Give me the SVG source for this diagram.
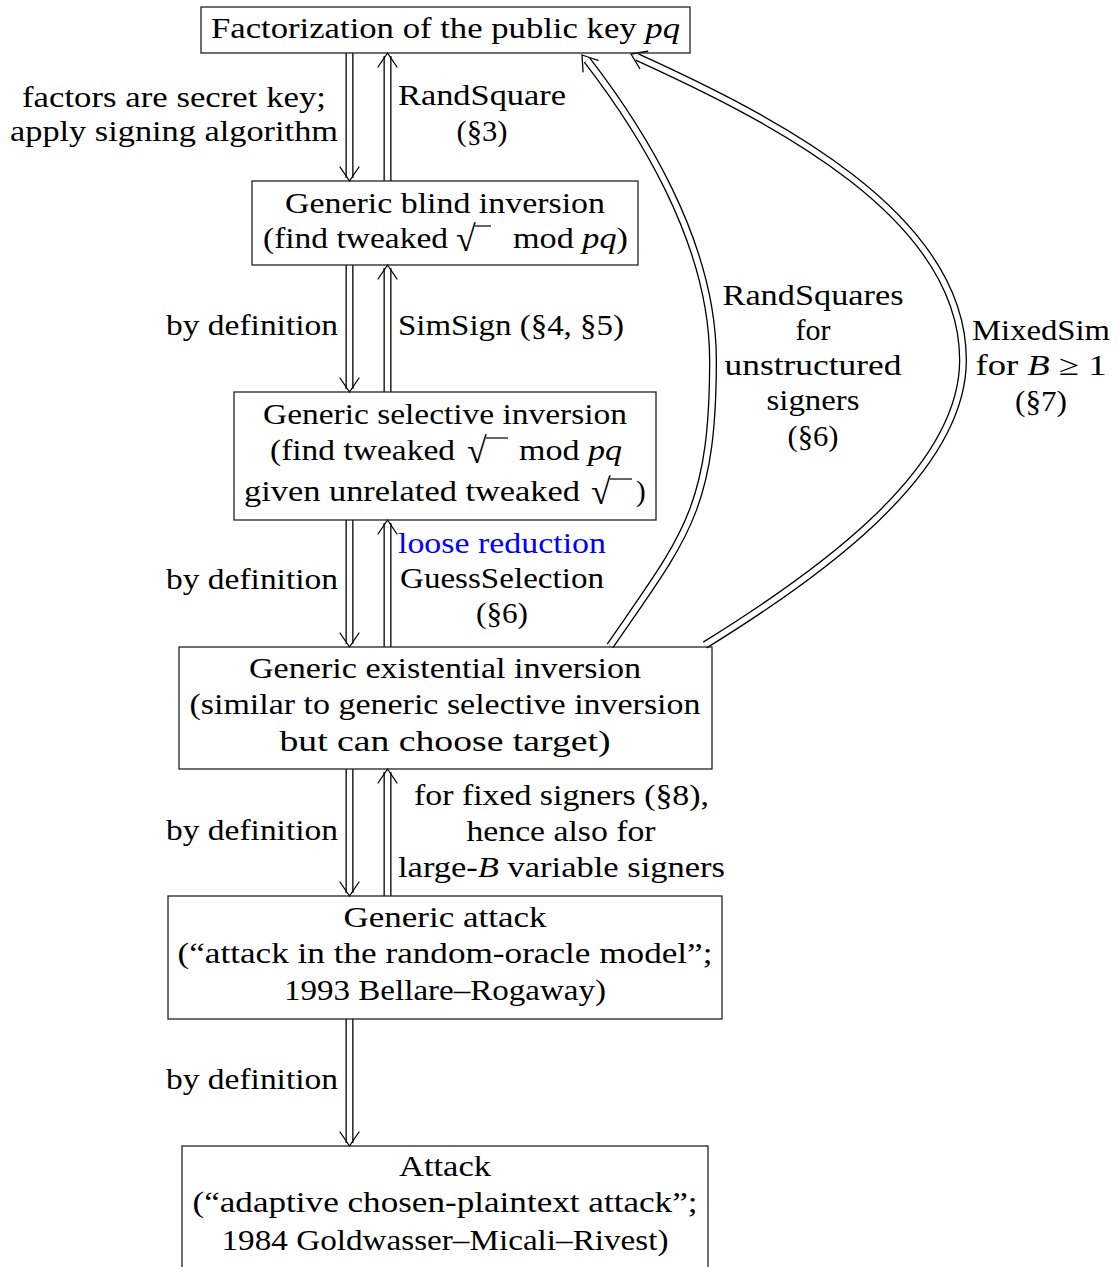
<svg xmlns="http://www.w3.org/2000/svg" xmlns:xlink="http://www.w3.org/1999/xlink" width="1118" height="1267" viewBox="0 0 1118 1267">
<style>
.t{font-family:"Liberation Serif","Times New Roman",serif;font-size:29px;fill:#000}
.i{font-style:italic}
.rad{font-family:"Liberation Serif","Times New Roman",serif;font-size:36px;fill:#000}
.box{fill:none;stroke:#222;stroke-width:1.3}
.dbo{fill:none;stroke:#000;stroke-width:8}
.dbi{fill:none;stroke:#fff;stroke-width:5.4}
.ah{fill:none;stroke:#000;stroke-width:1.3;stroke-linecap:round}
.bar{stroke:#000;stroke-width:1.2}
.blue{fill:#0000ff}
</style>
<defs>
<path id="ah" class="ah" d="M-9.5,-14 Q-4,-6 0,0 Q4,-6 9.5,-14"/>
</defs>
<rect width="1118" height="1267" fill="#fff"/>
<g id="connectors">
  <path class="dbo" d="M349.5,53 V178"/><path class="dbi" d="M349.5,53 V178"/>
  <use xlink:href="#ah" transform="translate(349.5,181)"/>
  <path class="dbo" d="M387.5,181 V56"/><path class="dbi" d="M387.5,181 V56"/>
  <use xlink:href="#ah" transform="translate(387.5,53) rotate(180)"/>
  <path class="dbo" d="M349.5,265 V389"/><path class="dbi" d="M349.5,265 V389"/>
  <use xlink:href="#ah" transform="translate(349.5,392)"/>
  <path class="dbo" d="M387.5,392 V268"/><path class="dbi" d="M387.5,392 V268"/>
  <use xlink:href="#ah" transform="translate(387.5,265) rotate(180)"/>
  <path class="dbo" d="M349.5,520 V644"/><path class="dbi" d="M349.5,520 V644"/>
  <use xlink:href="#ah" transform="translate(349.5,647)"/>
  <path class="dbo" d="M387.5,647 V523"/><path class="dbi" d="M387.5,647 V523"/>
  <use xlink:href="#ah" transform="translate(387.5,520) rotate(180)"/>
  <path class="dbo" d="M349.5,769 V893"/><path class="dbi" d="M349.5,769 V893"/>
  <use xlink:href="#ah" transform="translate(349.5,896)"/>
  <path class="dbo" d="M387.5,896 V772"/><path class="dbi" d="M387.5,896 V772"/>
  <use xlink:href="#ah" transform="translate(387.5,769) rotate(180)"/>
  <path class="dbo" d="M349.5,1019 V1143"/><path class="dbi" d="M349.5,1019 V1143"/>
  <use xlink:href="#ah" transform="translate(349.5,1146)"/>
  <path class="dbo" d="M587,60 C637,125 713,240 713,360 C713,510 685,537 610,646"/>
  <path class="dbi" d="M587,60 C637,125 713,240 713,360 C713,510 685,537 610,646"/>
  <use xlink:href="#ah" transform="translate(582,55) rotate(142.4)"/>
  <path class="dbo" d="M637,57 C773,119 963,215 963,360 C963,475 810,580 705,645"/>
  <path class="dbi" d="M637,57 C773,119 963,215 963,360 C963,475 810,580 705,645"/>
  <use xlink:href="#ah" transform="translate(631,54) rotate(114.8)"/>
</g>
<g id="labels">
  <text class="t" x="174" y="107" text-anchor="middle" textLength="304" lengthAdjust="spacingAndGlyphs">factors are secret key;</text>
  <text class="t" x="174" y="141" text-anchor="middle" textLength="328" lengthAdjust="spacingAndGlyphs">apply signing algorithm</text>
  <text class="t" x="398" y="105" textLength="168" lengthAdjust="spacingAndGlyphs">RandSquare</text>
  <text class="t" x="482" y="141" text-anchor="middle" textLength="51" lengthAdjust="spacingAndGlyphs">(§3)</text>
  <text class="t" x="338" y="335" text-anchor="end" textLength="172" lengthAdjust="spacingAndGlyphs">by definition</text>
  <text class="t" x="398" y="335" textLength="226" lengthAdjust="spacingAndGlyphs">SimSign (§4, §5)</text>
  <text class="t blue" x="398" y="553" textLength="208" lengthAdjust="spacingAndGlyphs">loose reduction</text>
  <text class="t" x="400" y="588" textLength="204" lengthAdjust="spacingAndGlyphs">GuessSelection</text>
  <text class="t" x="502" y="623" text-anchor="middle" textLength="52" lengthAdjust="spacingAndGlyphs">(§6)</text>
  <text class="t" x="338" y="589" text-anchor="end" textLength="172" lengthAdjust="spacingAndGlyphs">by definition</text>
  <text class="t" x="338" y="840" text-anchor="end" textLength="172" lengthAdjust="spacingAndGlyphs">by definition</text>
  <text class="t" x="414" y="805" textLength="295" lengthAdjust="spacingAndGlyphs">for fixed signers (§8),</text>
  <text class="t" x="561" y="841" text-anchor="middle" textLength="189" lengthAdjust="spacingAndGlyphs">hence also for</text>
  <text class="t" x="398" y="877" textLength="327" lengthAdjust="spacingAndGlyphs">large-<tspan class="i">B</tspan> variable signers</text>
  <text class="t" x="338" y="1089" text-anchor="end" textLength="172" lengthAdjust="spacingAndGlyphs">by definition</text>
  <text class="t" x="813" y="305" text-anchor="middle" textLength="181" lengthAdjust="spacingAndGlyphs">RandSquares</text>
  <text class="t" x="813" y="340" text-anchor="middle" textLength="35" lengthAdjust="spacingAndGlyphs">for</text>
  <text class="t" x="813" y="375" text-anchor="middle" textLength="177" lengthAdjust="spacingAndGlyphs">unstructured</text>
  <text class="t" x="813" y="410" text-anchor="middle" textLength="93" lengthAdjust="spacingAndGlyphs">signers</text>
  <text class="t" x="813" y="446" text-anchor="middle" textLength="51" lengthAdjust="spacingAndGlyphs">(§6)</text>
  <text class="t" x="1041" y="340" text-anchor="middle" textLength="138" lengthAdjust="spacingAndGlyphs">MixedSim</text>
  <text class="t" x="1041" y="375" text-anchor="middle" textLength="131" lengthAdjust="spacingAndGlyphs">for <tspan class="i">B</tspan> ≥ 1</text>
  <text class="t" x="1041" y="411" text-anchor="middle" textLength="52" lengthAdjust="spacingAndGlyphs">(§7)</text>
</g>
<g id="n-factorization">
  <rect class="box" x="201" y="7" width="489" height="46"/>
  <text class="t" x="211" y="38" textLength="469" lengthAdjust="spacingAndGlyphs">Factorization of the public key <tspan class="i">pq</tspan></text>
</g>
<g id="n-blind">
  <rect class="box" x="252" y="181" width="386" height="84"/>
  <text class="t" x="445" y="213" text-anchor="middle" textLength="320" lengthAdjust="spacingAndGlyphs">Generic blind inversion</text>
  <text class="t" x="263" y="248" textLength="185" lengthAdjust="spacingAndGlyphs">(find tweaked</text>
  <text class="rad" x="456" y="251">√</text>
  <line class="bar" x1="475" y1="226" x2="491" y2="226"/>
  <text class="t" x="513" y="248" textLength="115" lengthAdjust="spacingAndGlyphs">mod <tspan class="i">pq</tspan>)</text>
</g>
<g id="n-selective">
  <rect class="box" x="234" y="392" width="422" height="128"/>
  <text class="t" x="445" y="424" text-anchor="middle" textLength="364" lengthAdjust="spacingAndGlyphs">Generic selective inversion</text>
  <text class="t" x="270" y="460" textLength="185" lengthAdjust="spacingAndGlyphs">(find tweaked</text>
  <text class="rad" x="467" y="463">√</text>
  <line class="bar" x1="486" y1="438" x2="508" y2="438"/>
  <text class="t" x="519" y="460" textLength="103" lengthAdjust="spacingAndGlyphs">mod <tspan class="i">pq</tspan></text>
  <text class="t" x="244" y="501" textLength="336" lengthAdjust="spacingAndGlyphs">given unrelated tweaked</text>
  <text class="rad" x="591" y="504">√</text>
  <line class="bar" x1="610" y1="479" x2="632" y2="479"/>
  <text class="t" x="636" y="501">)</text>
</g>
<g id="n-existential">
  <rect class="box" x="179" y="647" width="533" height="122"/>
  <text class="t" x="445" y="678" text-anchor="middle" textLength="392" lengthAdjust="spacingAndGlyphs">Generic existential inversion</text>
  <text class="t" x="445" y="714" text-anchor="middle" textLength="511" lengthAdjust="spacingAndGlyphs">(similar to generic selective inversion</text>
  <text class="t" x="445" y="751" text-anchor="middle" textLength="331" lengthAdjust="spacingAndGlyphs">but can choose target)</text>
</g>
<g id="n-generic-attack">
  <rect class="box" x="168" y="896" width="554" height="123"/>
  <text class="t" x="445" y="927" text-anchor="middle" textLength="203" lengthAdjust="spacingAndGlyphs">Generic attack</text>
  <text class="t" x="445" y="963" text-anchor="middle" textLength="535" lengthAdjust="spacingAndGlyphs">(“attack in the random-oracle model”;</text>
  <text class="t" x="445" y="1000" text-anchor="middle" textLength="322" lengthAdjust="spacingAndGlyphs">1993 Bellare–Rogaway)</text>
</g>
<g id="n-attack">
  <rect class="box" x="182" y="1146" width="526" height="130"/>
  <text class="t" x="445" y="1176" text-anchor="middle" textLength="92" lengthAdjust="spacingAndGlyphs">Attack</text>
  <text class="t" x="445" y="1212" text-anchor="middle" textLength="505" lengthAdjust="spacingAndGlyphs">(“adaptive chosen-plaintext attack”;</text>
  <text class="t" x="445" y="1250" text-anchor="middle" textLength="447" lengthAdjust="spacingAndGlyphs">1984 Goldwasser–Micali–Rivest)</text>
</g>
</svg>
